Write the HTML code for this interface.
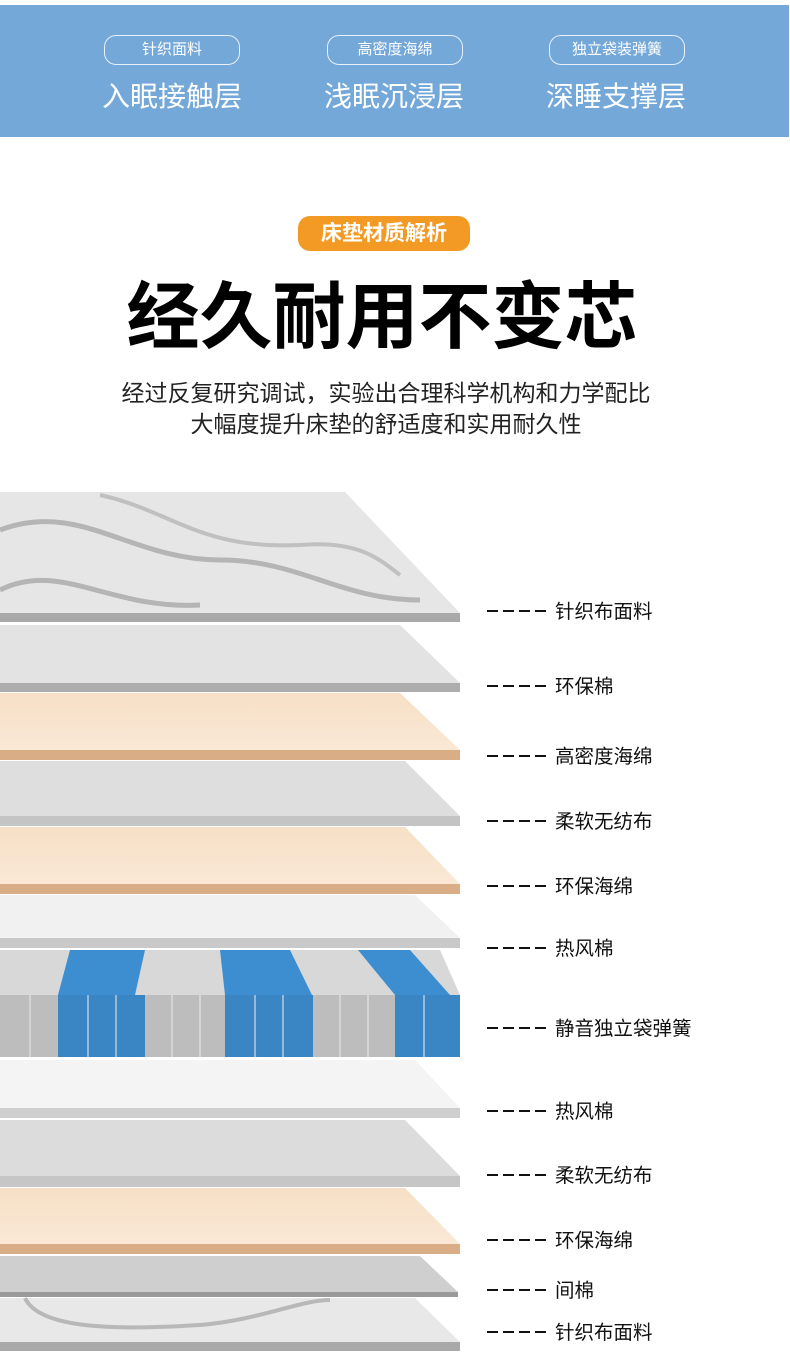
<!DOCTYPE html>
<html><head><meta charset="utf-8"><style>
body{margin:0;width:790px;height:1366px;background:#fff;position:relative;overflow:hidden;font-family:"Liberation Sans","Noto Sans CJK SC",sans-serif}
.ban{position:absolute;left:0;top:5px;width:789px;height:132px;background:#74a8d9}
.pill{position:absolute;top:35px;width:134px;height:28px;border:1.5px solid #e8f0fa;border-radius:12px;color:#fff;font-size:15px;line-height:28px;text-align:center}
.big{position:absolute;top:78px;width:200px;text-align:center;color:#fff;font-size:28px;line-height:38px}
.tag{position:absolute;left:298px;top:216px;width:172px;height:35px;border-radius:12px;background:#f39a25;color:#fff;font-weight:bold;font-size:21px;line-height:35px;text-align:center}
.h1{position:absolute;left:-13px;width:790px;top:275px;text-align:center;font-size:73px;font-weight:bold;line-height:86px}
.sub{position:absolute;left:0;width:768px;text-align:center;font-size:23px;color:#222;line-height:30px}
svg{position:absolute;left:0;top:0}
</style></head><body>
<div class="ban"></div>
<div class="pill" style="left:104px">针织面料</div>
<div class="pill" style="left:327px">高密度海绵</div>
<div class="pill" style="left:549px">独立袋装弹簧</div>
<div class="big" style="left:72px">入眠接触层</div>
<div class="big" style="left:294px">浅眠沉浸层</div>
<div class="big" style="left:516px">深睡支撑层</div>
<div class="tag">床垫材质解析</div>
<div class="h1">经久耐用不变芯</div>
<div class="sub" style="top:378px;left:2px">经过反复研究调试，实验出合理科学机构和力学配比</div>
<div class="sub" style="top:409px;left:2px">大幅度提升床垫的舒适度和实用耐久性</div>
<svg width="790" height="1366" viewBox="0 0 790 1366">
<defs>
<linearGradient id="tan" x1="0" y1="0" x2="0" y2="1"><stop offset="0" stop-color="#f6dfc5"/><stop offset="1" stop-color="#fae8d6"/></linearGradient>
</defs>
<polygon points="0,492 345,492 460,613 0,613" fill="#e6e6e6"/>
<path d="M0,530 C80,500 130,560 220,560 C300,560 340,600 420,600" stroke="#b5b5b5" stroke-width="5" fill="none"/>
<path d="M0,590 C60,560 110,610 200,605" stroke="#b5b5b5" stroke-width="5" fill="none"/>
<path d="M100,495 C170,510 200,550 300,545 C360,540 380,560 400,575" stroke="#c0c0c0" stroke-width="4" fill="none"/>
<rect x="0" y="613" width="460" height="9" fill="#a9a9a9"/>
<polygon points="0,625 400,625 460,683 0,683" fill="#e3e3e3"/>
<rect x="0" y="683" width="460" height="9" fill="#adadad"/>
<polygon points="0,693 400,693 460,750 0,750" fill="url(#tan)"/>
<rect x="0" y="750" width="460" height="10" fill="#d9ad86"/>
<polygon points="0,761 405,761 460,816 0,816" fill="#dedede"/>
<rect x="0" y="816" width="460" height="10" fill="#c4c4c4"/>
<polygon points="0,827 405,827 460,884 0,884" fill="url(#tan)"/>
<rect x="0" y="884" width="460" height="10" fill="#d9ad86"/>
<polygon points="0,895 415,895 460,938 0,938" fill="#f1f1f1"/>
<rect x="0" y="938" width="460" height="10" fill="#c9c9c9"/>
<polygon points="0,950 440,950 460,995 0,995" fill="#d8d8d8"/>
<polygon points="70,950 145,950 135,995 58,995" fill="#3d8ed0"/>
<polygon points="220,950 290,950 312,995 225,995" fill="#3d8ed0"/>
<polygon points="358,950 410,950 450,995 395,995" fill="#3d8ed0"/>
<rect x="0" y="995" width="460" height="62" fill="#bdbdbd"/>
<rect x="58" y="995" width="87" height="62" fill="#3a85c4"/>
<rect x="225" y="995" width="88" height="62" fill="#3a85c4"/>
<rect x="395" y="995" width="65" height="62" fill="#3a85c4"/>
<g stroke="#e8e8e8" stroke-width="1.5" opacity=".7">
<line x1="30" y1="995" x2="30" y2="1057"/><line x1="88" y1="995" x2="88" y2="1057"/><line x1="116" y1="995" x2="116" y2="1057"/><line x1="172" y1="995" x2="172" y2="1057"/><line x1="200" y1="995" x2="200" y2="1057"/><line x1="255" y1="995" x2="255" y2="1057"/><line x1="283" y1="995" x2="283" y2="1057"/><line x1="340" y1="995" x2="340" y2="1057"/><line x1="368" y1="995" x2="368" y2="1057"/><line x1="424" y1="995" x2="424" y2="1057"/>
</g>
<polygon points="0,1060 415,1060 460,1108 0,1108" fill="#f4f4f4"/>
<rect x="0" y="1108" width="460" height="10" fill="#cfcfcf"/>
<polygon points="0,1120 405,1120 460,1176 0,1176" fill="#dcdcdc"/>
<rect x="0" y="1176" width="460" height="11" fill="#c6c6c6"/>
<polygon points="0,1188 405,1188 460,1244 0,1244" fill="url(#tan)"/>
<rect x="0" y="1244" width="460" height="10" fill="#d9ad86"/>
<polygon points="0,1256 420,1256 458,1292 0,1292" fill="#cfcfcf"/>
<rect x="0" y="1292" width="458" height="5" fill="#9a9a9a"/>
<polygon points="0,1298 415,1298 460,1342 0,1342" fill="#e8e8e8"/>
<path d="M25,1298 C40,1330 120,1330 200,1325 C260,1320 300,1300 330,1300" stroke="#b8b8b8" stroke-width="4" fill="none"/>
<rect x="0" y="1342" width="460" height="9" fill="#a9a9a9"/>
<g stroke="#111" stroke-width="2" stroke-dasharray="11,5">
<line x1="487" y1="611" x2="546" y2="611"/>
<line x1="487" y1="686" x2="546" y2="686"/>
<line x1="487" y1="756" x2="546" y2="756"/>
<line x1="487" y1="821" x2="546" y2="821"/>
<line x1="487" y1="886" x2="546" y2="886"/>
<line x1="487" y1="948" x2="546" y2="948"/>
<line x1="487" y1="1028" x2="546" y2="1028"/>
<line x1="487" y1="1111" x2="546" y2="1111"/>
<line x1="487" y1="1175" x2="546" y2="1175"/>
<line x1="487" y1="1240" x2="546" y2="1240"/>
<line x1="487" y1="1290" x2="546" y2="1290"/>
<line x1="487" y1="1332" x2="546" y2="1332"/>
</g>
<g font-family="Liberation Sans,Noto Sans CJK SC,sans-serif" font-size="19.5" fill="#111">
<text x="555" y="618">针织布面料</text>
<text x="555" y="693">环保棉</text>
<text x="555" y="763">高密度海绵</text>
<text x="555" y="828">柔软无纺布</text>
<text x="555" y="893">环保海绵</text>
<text x="555" y="955">热风棉</text>
<text x="555" y="1035">静音独立袋弹簧</text>
<text x="555" y="1118">热风棉</text>
<text x="555" y="1182">柔软无纺布</text>
<text x="555" y="1247">环保海绵</text>
<text x="555" y="1297">间棉</text>
<text x="555" y="1339">针织布面料</text>
</g>
</svg>
</body></html>
